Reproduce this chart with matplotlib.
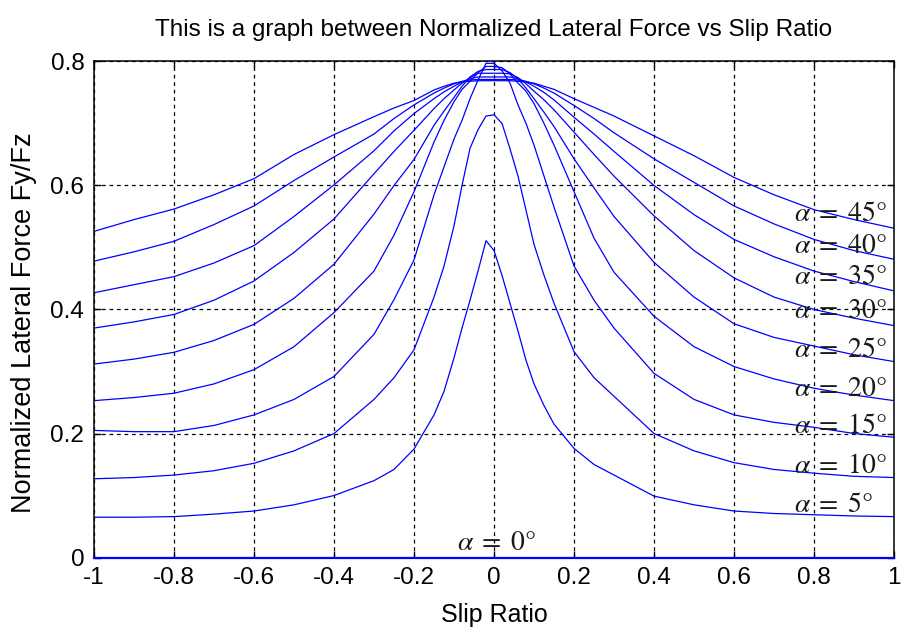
import matplotlib.pyplot as plt

# slip ratio samples shared by every curve
slip = [-1, -0.9, -0.8, -0.7, -0.6, -0.5, -0.4, -0.3, -0.25, -0.2, -0.15, -0.125, -0.1,
        -0.08, -0.06, -0.04, -0.02, 0, 0.02, 0.04, 0.06, 0.08, 0.1, 0.125, 0.15, 0.2,
        0.25, 0.3, 0.4, 0.5, 0.6, 0.7, 0.8, 0.9, 1]

# normalized lateral force Fy/Fz for each slip angle
fy_00 = [0] * len(slip)
fy_05 = [0.065, 0.065, 0.066, 0.070, 0.075, 0.085, 0.100, 0.124, 0.142, 0.175, 0.230, 0.268,
         0.322, 0.370, 0.415, 0.462, 0.511, 0.495, 0.455, 0.410, 0.365, 0.318, 0.280, 0.245,
         0.215, 0.176, 0.150, 0.133, 0.099, 0.085, 0.075, 0.071, 0.069, 0.067, 0.066]
fy_10 = [0.127, 0.129, 0.133, 0.140, 0.152, 0.172, 0.200, 0.255, 0.290, 0.335, 0.420, 0.470,
         0.535, 0.600, 0.660, 0.690, 0.712, 0.714, 0.700, 0.659, 0.615, 0.560, 0.505, 0.455,
         0.410, 0.332, 0.290, 0.260, 0.200, 0.172, 0.153, 0.142, 0.136, 0.131, 0.129]
fy_15 = [0.205, 0.203, 0.203, 0.213, 0.230, 0.255, 0.292, 0.360, 0.416, 0.480, 0.585, 0.630,
         0.675, 0.705, 0.740, 0.770, 0.797, 0.797, 0.785, 0.765, 0.730, 0.700, 0.665, 0.615,
         0.565, 0.470, 0.415, 0.370, 0.297, 0.255, 0.230, 0.218, 0.210, 0.200, 0.194]
fy_20 = [0.253, 0.258, 0.265, 0.280, 0.303, 0.340, 0.395, 0.462, 0.520, 0.590, 0.670, 0.705,
         0.735, 0.755, 0.768, 0.782, 0.792, 0.792, 0.790, 0.780, 0.765, 0.752, 0.732, 0.700,
         0.665, 0.590, 0.515, 0.460, 0.389, 0.340, 0.308, 0.288, 0.273, 0.262, 0.253]
fy_25 = [0.312, 0.320, 0.331, 0.350, 0.376, 0.418, 0.473, 0.554, 0.600, 0.642, 0.697, 0.720,
         0.742, 0.760, 0.775, 0.784, 0.787, 0.787, 0.787, 0.782, 0.772, 0.757, 0.740, 0.718,
         0.695, 0.643, 0.596, 0.550, 0.476, 0.420, 0.377, 0.355, 0.341, 0.327, 0.316]
fy_30 = [0.370, 0.380, 0.392, 0.415, 0.446, 0.492, 0.546, 0.619, 0.655, 0.689, 0.724, 0.740,
         0.754, 0.765, 0.774, 0.781, 0.781, 0.781, 0.781, 0.780, 0.774, 0.764, 0.752, 0.738,
         0.722, 0.686, 0.650, 0.615, 0.551, 0.495, 0.451, 0.420, 0.400, 0.386, 0.374]
fy_35 = [0.427, 0.440, 0.453, 0.475, 0.503, 0.550, 0.601, 0.656, 0.688, 0.716, 0.740, 0.751,
         0.760, 0.767, 0.772, 0.775, 0.775, 0.775, 0.775, 0.775, 0.772, 0.767, 0.760, 0.750,
         0.738, 0.710, 0.683, 0.655, 0.600, 0.553, 0.513, 0.485, 0.462, 0.445, 0.430]
fy_40 = [0.478, 0.493, 0.510, 0.537, 0.567, 0.608, 0.646, 0.683, 0.708, 0.730, 0.749, 0.757,
         0.764, 0.768, 0.770, 0.771, 0.771, 0.771, 0.771, 0.771, 0.770, 0.768, 0.764, 0.757,
         0.749, 0.729, 0.708, 0.685, 0.643, 0.605, 0.567, 0.538, 0.513, 0.495, 0.481]
fy_45 = [0.526, 0.545, 0.562, 0.585, 0.611, 0.650, 0.682, 0.711, 0.725, 0.737, 0.754, 0.760,
         0.765, 0.767, 0.768, 0.769, 0.769, 0.769, 0.769, 0.769, 0.768, 0.767, 0.765, 0.760,
         0.755, 0.740, 0.726, 0.712, 0.680, 0.648, 0.613, 0.585, 0.561, 0.545, 0.531]

alphas = [0, 5, 10, 15, 20, 25, 30, 35, 40, 45]
curves = [fy_00, fy_05, fy_10, fy_15, fy_20, fy_25, fy_30, fy_35, fy_40, fy_45]

# where the alpha annotations sit (x, y in data units)
label_x = [0.005, 0.75, 0.75, 0.75, 0.75, 0.75, 0.75, 0.75, 0.75, 0.75]
label_y = [0.023, 0.084, 0.147, 0.212, 0.272, 0.334, 0.397, 0.452, 0.502, 0.554]

xticks = [-1, -0.8, -0.6, -0.4, -0.2, 0, 0.2, 0.4, 0.6, 0.8, 1]
xticklabels = ['-1', '-0.8', '-0.6', '-0.4', '-0.2', '0', '0.2', '0.4', '0.6', '0.8', '1']
yticks = [0, 0.2, 0.4, 0.6, 0.8]
yticklabels = ['0', '0.2', '0.4', '0.6', '0.8']

plt.rcParams['font.family'] = ['Liberation Sans', 'DejaVu Sans']
plt.rcParams['mathtext.fontset'] = 'stix'

fig = plt.figure(figsize=(9.02, 6.35), dpi=100)
ax = fig.add_axes([0.1042, 0.1220, 0.8870, 0.7812])

for a, fy in zip(alphas, curves):
    if a == 0:
        ax.plot(slip, fy, color='#0000ff', lw=1.6, clip_on=False, zorder=3)
    else:
        ax.plot(slip, fy, color='#0000ff', lw=0.9)

for a, lx, ly in zip(alphas, label_x, label_y):
    ax.text(lx, ly, r'$\alpha\;=\;%d°$' % a, fontsize=20,
            ha='center' if a == 0 else 'left', va='center',
            color='#1a1a1a', zorder=4)

ax.set_xlim(-1, 1)
ax.set_ylim(0, 0.8)
ax.set_xticks(xticks)
ax.set_xticklabels(xticklabels)
ax.set_yticks(yticks)
ax.set_yticklabels(yticklabels)
ax.tick_params(direction='in', length=5, width=1, top=True, right=True,
               labelsize=17.5, pad=7)
ax.grid(True, color='black', linestyle=(0, (3, 3)), linewidth=0.9)
for sp in ax.spines.values():
    sp.set_linewidth(1.1)

ax.set_title('This is a graph between Normalized Lateral Force vs Slip Ratio',
             fontsize=17.5, pad=18)
ax.set_xlabel('Slip Ratio', fontsize=18, labelpad=10)
ax.set_ylabel('Normalized Lateral Force Fy/Fz', fontsize=19.5)
ax.yaxis.set_label_coords(-0.071, 0.474)

fig.savefig('out.png', dpi=100)
